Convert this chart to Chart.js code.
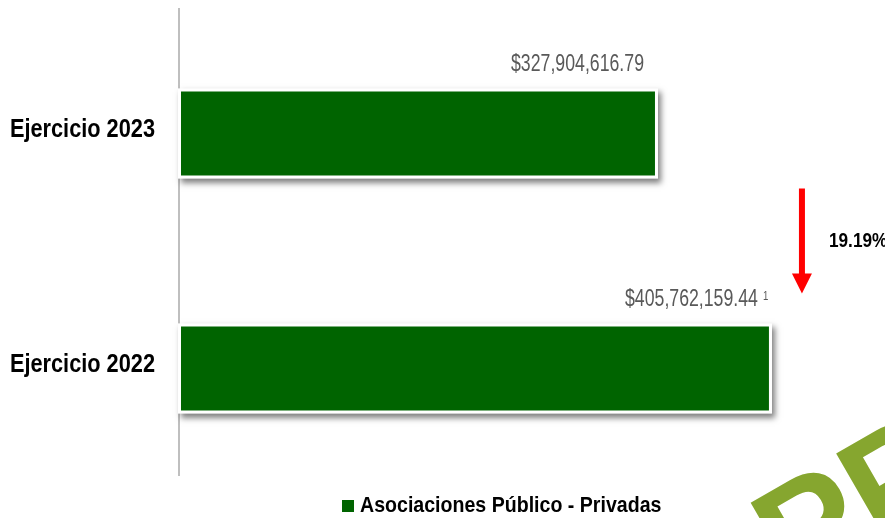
<!DOCTYPE html>
<html>
<head>
<meta charset="utf-8">
<script src="https://cdn.jsdelivr.net/npm/chart.js@4"></script>
<style>
    html, body { margin: 0; padding: 0; background: #ffffff; }
    #wrap { width: 885px; height: 518px; position: relative; }
</style>
</head>
<body>
<div id="wrap"><canvas id="appChart"></canvas></div>
<script>
const categories = ['Ejercicio 2023', 'Ejercicio 2022'];
const amounts = [327904616.79, 405762159.44];
const amountLabels = ['$327,904,616.79', '$405,762,159.44'];
const footnotes = ['', '1'];
const seriesName = 'Asociaciones Público - Privadas';
const changeLabel = '19.19%';

const FONT = '"Liberation Sans", Arial, sans-serif';
const GREEN = '#006400';

function barRect(bar) {
    const p = bar.getProps(['x', 'y', 'base', 'height'], true);
    return { left: Math.min(p.base, p.x), right: Math.max(p.base, p.x), top: p.y - p.height / 2, bottom: p.y + p.height / 2 };
}

// the original uses a narrow face, so squeeze the text horizontally
function narrowText(ctx, text, x, y, sx, align, baseline) {
    ctx.save();
    ctx.translate(x, y);
    ctx.scale(sx, 1);
    ctx.textAlign = align;
    ctx.textBaseline = baseline;
    ctx.fillText(text, 0, 0);
    ctx.restore();
}

const decorPlugin = {
    id: 'decor',
    beforeDraw(chart) {
        // olive watermark in the bottom right corner
        const ctx = chart.ctx;
        ctx.save();
        ctx.translate(chart.width - 92, chart.height + 78);
        ctx.rotate(-30 * Math.PI / 180);
        ctx.fillStyle = '#86a62f';
        ctx.font = 'bold 148px ' + FONT;
        ctx.textBaseline = 'alphabetic';
        ctx.fillText('PP', 0, 0);
        ctx.restore();
    },
    beforeDatasetsDraw(chart) {
        const ctx = chart.ctx;
        const area = chart.chartArea;
        const yScale = chart.scales.y;
        ctx.save();

        // category labels
        ctx.fillStyle = '#000000';
        ctx.font = 'bold 25px ' + FONT;
        yScale.getLabels().forEach((label, i) => {
            narrowText(ctx, label, area.left - 23, yScale.getPixelForValue(i) - 3, 0.87, 'right', 'middle');
        });

        ctx.strokeStyle = '#bfbfbf';
        ctx.lineWidth = 2;
        ctx.beginPath();
        ctx.moveTo(area.left + 1, area.top - 8);
        ctx.lineTo(area.left + 1, area.bottom - 10);
        ctx.stroke();

        // drop shadow behind each bar
        chart.getDatasetMeta(0).data.forEach(bar => {
            const r = barRect(bar);
            ctx.shadowColor = 'rgba(0,0,0,0.5)';
            ctx.shadowBlur = 6;
            ctx.shadowOffsetX = 3;
            ctx.shadowOffsetY = 4;
            ctx.fillStyle = '#ffffff';
            ctx.fillRect(r.left, r.top, r.right - r.left, r.bottom - r.top);
        });
        ctx.restore();
    },
    afterDatasetsDraw(chart) {
        const ctx = chart.ctx;
        const bars = chart.getDatasetMeta(0).data;
        ctx.save();

        // value labels above the bars
        bars.forEach((bar, i) => {
            const r = barRect(bar);
            const x = r.right - 14;
            const y = r.top - 17;
            ctx.fillStyle = '#595959';
            ctx.font = '23px ' + FONT;
            narrowText(ctx, amountLabels[i], x, y, 0.77, 'right', 'alphabetic');
            if (footnotes[i]) {
                ctx.font = '12px ' + FONT;
                narrowText(ctx, footnotes[i], x + 5, y - 6, 0.8, 'left', 'alphabetic');
            }
        });

        // red arrow for the change between years
        const top = barRect(bars[0]);
        const bottom = barRect(bars[1]);
        const ax = bottom.right + 30;
        const y1 = top.bottom + 10;
        const y2 = bottom.top - 30;
        ctx.fillStyle = '#ff0000';
        ctx.fillRect(ax - 3, y1, 6, y2 - y1 - 18);
        ctx.beginPath();
        ctx.moveTo(ax - 10, y2 - 20);
        ctx.lineTo(ax + 10, y2 - 20);
        ctx.lineTo(ax, y2);
        ctx.closePath();
        ctx.fill();

        ctx.fillStyle = '#000000';
        ctx.font = 'bold 21px ' + FONT;
        narrowText(ctx, changeLabel, ax + 27, (y1 + y2) / 2, 0.82, 'left', 'middle');

        // legend
        const area = chart.chartArea;
        const lx = area.left + 164;
        const ly = chart.height - 12;
        ctx.fillStyle = GREEN;
        ctx.fillRect(lx, ly - 6, 12, 12);
        ctx.fillStyle = '#000000';
        ctx.font = 'bold 22px ' + FONT;
        narrowText(ctx, seriesName, lx + 18, ly, 0.89, 'left', 'middle');
        ctx.restore();
    }
};

new Chart(document.getElementById('appChart').getContext('2d'), {
    type: 'bar',
    data: {
        labels: categories,
        datasets: [{
            label: seriesName,
            data: amounts,
            backgroundColor: GREEN,
            borderColor: '#ffffff',
            borderWidth: 3,
            borderSkipped: false,
            categoryPercentage: 1,
            barPercentage: 0.383
        }]
    },
    options: {
        indexAxis: 'y',
        responsive: true,
        maintainAspectRatio: false,
        animation: false,
        layout: { padding: { top: 16, bottom: 32, left: 10, right: 0 } },
        plugins: {
            legend: { display: false },
            tooltip: { enabled: false }
        },
        scales: {
            x: { display: false, min: 0, max: 483000000 },
            y: {
                grid: { display: false },
                border: { display: false },
                ticks: { display: false },
                afterFit(scale) { scale.width = 168; }
            }
        }
    },
    plugins: [decorPlugin]
});
</script>
</body>
</html>
